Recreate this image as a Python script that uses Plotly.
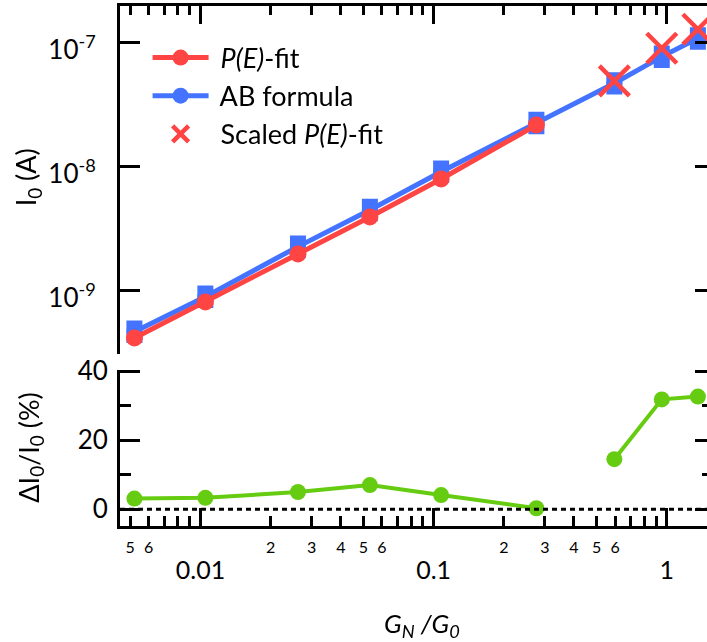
import plotly.graph_objects as go

# ---- data ----
x_pe = [0.00521, 0.0105, 0.0262, 0.0533, 0.1077, 0.276]
I_pe = [4.18e-10, 8.15e-10, 1.99e-9, 3.95e-9, 8.0e-9, 2.18e-8]
x_ab = [0.00521, 0.0105, 0.0262, 0.0533, 0.1077, 0.276, 0.596, 0.952, 1.36]
I_ab = [4.70e-10, 9.0e-10, 2.28e-9, 4.5e-9, 9.16e-9, 2.27e-8, 4.73e-8, 7.76e-8, 1.09e-7]
x_scaled = [0.596, 0.952, 1.36]
I_scaled = [4.94e-8, 9.06e-8, 1.29e-7]
x_diff_a = [0.00521, 0.0105, 0.0262, 0.0533, 0.1077, 0.276]
dI_a = [3.1, 3.3, 5.0, 7.0, 4.1, 0.3]
x_diff_b = [0.596, 0.952, 1.36]
dI_b = [14.5, 31.8, 32.6]

y_top_ticks = [1e-9, 1e-8, 1e-7]
y_top_text = ["10<sup>-9</sup>", "10<sup>-8</sup>", "10<sup>-7</sup>"]
y_bot_ticks = [0, 20, 40]
y_bot_minor = [10, 30]
x_major = [0.01, 0.1, 1]
x_major_text = ["0.01", "0.1", "1"]
x_minor = [0.005, 0.006, 0.007, 0.008, 0.009,
           0.02, 0.03, 0.04, 0.05, 0.06, 0.07, 0.08, 0.09,
           0.2, 0.3, 0.4, 0.5, 0.6, 0.7, 0.8, 0.9]
x_minor_text = ["5", "6", "", "", "",
                "2", "3", "4", "5", "6", "", "", "",
                "2", "3", "4", "5", "6", "", "", ""]

RED = "#FF4444"
BLUE = "#4474FF"
GREEN = "#66CC11"
FONT = "Lato"
NB = "\u00a0"

xr = [-2.345, 0.1726]
yr_top = [-9.508, -6.702]
yr_bot = [-4.84, 40.3]

fig = go.Figure()

fig.add_trace(go.Scatter(
    x=x_ab, y=I_ab, mode="lines+markers", name=NB + "AB formula",
    line=dict(color=BLUE, width=5), marker=dict(color=BLUE, size=16),
    error_y=dict(type="percent", value=6, color=BLUE, thickness=16, width=8),
    xaxis="x", yaxis="y", legendgroup="b", legendrank=2))
fig.add_trace(go.Scatter(
    x=x_pe, y=I_pe, mode="lines+markers", name=NB + "<i>P(E)</i>-fit",
    line=dict(color=RED, width=5), marker=dict(color=RED, size=17),
    xaxis="x", yaxis="y", legendgroup="a", legendrank=1))
fig.add_trace(go.Scatter(
    x=x_scaled, y=I_scaled, mode="markers", name=NB + "Scaled <i>P(E)</i>-fit",
    marker=dict(symbol="x-thin", size=30, line=dict(color=RED, width=4.5), color=RED),
    xaxis="x", yaxis="y", legendgroup="c", legendrank=3, cliponaxis=False))

for xs, ys in [(x_diff_a, dI_a), (x_diff_b, dI_b)]:
    fig.add_trace(go.Scatter(
        x=xs, y=ys, mode="lines+markers", showlegend=False,
        line=dict(color=GREEN, width=4), marker=dict(color=GREEN, size=16),
        xaxis="x2", yaxis="y2"))

# invisible carriers so that the overlay (mirror-tick) axes get drawn
for xa, ya, xs, ys in [("x", "y3", x_ab, I_ab), ("x3", "y2", x_diff_b, dI_b),
                       ("x2", "y4", x_diff_b, dI_b)]:
    fig.add_trace(go.Scatter(x=xs, y=ys, mode="markers", opacity=0, showlegend=False,
                             hoverinfo="skip", xaxis=xa, yaxis=ya))

# zero dotted line in the lower panel
fig.add_shape(type="line", xref="x2 domain", yref="y2", x0=0, x1=1, y0=0, y1=0,
              line=dict(color="black", width=3, dash="5px,4px"))

ax_common = dict(showgrid=False, zeroline=False, linecolor="black", tickcolor="black",
                 automargin=False)

fig.update_layout(
    width=707, height=642,
    margin=dict(l=120, r=0, t=6, b=116, autoexpand=False),
    paper_bgcolor="white", plot_bgcolor="white",
    font=dict(family=FONT, size=24, color="black"),
    showlegend=True,
    legend=dict(x=0.047, y=0.947, xanchor="left", yanchor="top",
                bgcolor="rgba(0,0,0,0)", font=dict(size=27, family=FONT),
                traceorder="grouped", tracegroupgap=0, itemwidth=56),
    xaxis=dict(type="log", range=xr, side="top", anchor="y",
               showline=True, linewidth=3, ticks="inside", ticklen=18, tickwidth=3,
               tickvals=x_major, showticklabels=False,
               minor=dict(tickvals=x_minor, ticks="inside", ticklen=9, tickwidth=3,
                          tickcolor="black", showgrid=False),
               **ax_common),
    yaxis=dict(type="log", range=yr_top, domain=[0.3308, 1], anchor="x",
               showline=True, linewidth=3, ticks="inside", ticklen=20, tickwidth=3,
               tickvals=y_top_ticks, ticktext=y_top_text, ticklabelstandoff=16,
               ticklabelshift=7, tickfont=dict(size=26), **ax_common),
    yaxis3=dict(type="log", range=yr_top, overlaying="y", side="right",
                anchor="x", showline=False, ticks="inside", ticklen=12, tickwidth=3,
                tickvals=y_top_ticks, showticklabels=False, **ax_common),
    xaxis2=dict(type="log", range=xr, anchor="y2", side="bottom",
                showline=True, linewidth=3, ticks="inside", ticklen=10, tickwidth=3,
                tickvals=x_minor, ticktext=x_minor_text, ticklabelstandoff=5,
                tickfont=dict(size=16), **ax_common),
    xaxis3=dict(type="log", range=xr, overlaying="x2", anchor="y2", side="bottom",
                showline=False, ticks="inside", ticklen=18, tickwidth=3,
                tickvals=x_major, ticktext=x_major_text, ticklabelstandoff=27,
                tickfont=dict(size=25), **ax_common),
    yaxis2=dict(range=yr_bot, domain=[0, 0.30], anchor="x2",
                showline=True, linewidth=3, ticks="inside", ticklen=20, tickwidth=3,
                tickvals=y_bot_ticks, ticklabelstandoff=4, tickfont=dict(size=26),
                minor=dict(tickvals=y_bot_minor, ticks="inside", ticklen=11, tickwidth=3,
                           tickcolor="black", showgrid=False),
                **ax_common),
    yaxis4=dict(range=yr_bot, overlaying="y2", side="right", anchor="x2",
                showline=False, ticks="inside", ticklen=12, tickwidth=3,
                tickvals=y_bot_ticks, showticklabels=False,
                minor=dict(tickvals=y_bot_minor, ticks="inside", ticklen=5, tickwidth=3,
                           tickcolor="black", showgrid=False),
                **ax_common),
)

# axis titles
fig.add_annotation(text="<i>G<sub>N</sub> /G<sub>0</sub></i>", xref="paper", yref="paper",
                   x=0.5145, y=-0.19, xanchor="center", yanchor="middle",
                   showarrow=False, font=dict(size=26, family=FONT))
fig.add_annotation(text="I<sub>0</sub> (A)", xref="paper", yref="paper",
                   x=-0.158, y=0.671, xanchor="center", yanchor="middle",
                   textangle=-90, showarrow=False, font=dict(size=27, family=FONT))
fig.add_annotation(text="ΔI<sub>0</sub>/I<sub>0</sub> (%)", xref="paper", yref="paper",
                   x=-0.152, y=0.152, xanchor="center", yanchor="middle",
                   textangle=-90, showarrow=False, font=dict(size=27, family=FONT))

fig.write_html("out.html", config={"displayModeBar": False},
               post_script="document.body.style.margin='0px';")
